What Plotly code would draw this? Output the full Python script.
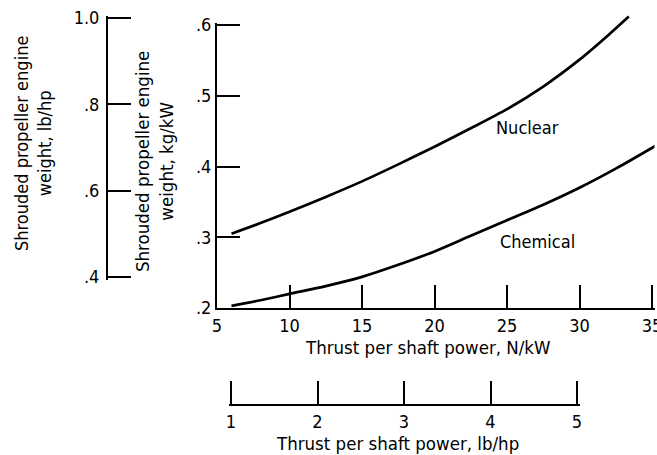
import plotly.graph_objects as go

# ---------------- data ----------------
thrust_nkw_nuclear = [6.0, 8.0, 10.0, 12.5, 15.0, 17.5, 20.0, 22.5, 25.0, 27.5, 30.0, 32.0, 33.4]
weight_nuclear = [0.305, 0.320, 0.336, 0.357, 0.379, 0.403, 0.428, 0.454, 0.481, 0.513, 0.551, 0.586, 0.612]

thrust_nkw_chemical = [6.0, 8.0, 10.0, 12.5, 15.0, 17.5, 20.0, 22.5, 25.0, 27.5, 30.0, 32.5, 35.3]
weight_chemical = [0.203, 0.211, 0.220, 0.231, 0.244, 0.261, 0.280, 0.302, 0.324, 0.346, 0.370, 0.397, 0.430]

x_nkw_ticks = [5, 10, 15, 20, 25, 30, 35]
x_nkw_labels = ["5", "10", "15", "20", "25", "30", "35"]
y_kgkw_ticks = [0.2, 0.3, 0.4, 0.5, 0.6]
y_kgkw_labels = [".2", ".3", ".4", ".5", ".6"]
x_lbhp_ticks = [1, 2, 3, 4, 5]
x_lbhp_labels = ["1", "2", "3", "4", "5"]
y_lbhp_ticks = [0.4, 0.6, 0.8, 1.0]
y_lbhp_labels = [".4", ".6", ".8", "1.0"]

curve_labels = ["Nuclear", "Chemical"]
curve_label_x = [26.4, 27.1]
curve_label_y = [0.455, 0.294]

# ---------------- layout geometry (pixels) ----------------
W, H = 657, 455
FONT = "DejaVu Sans Condensed, DejaVu Sans, sans-serif"
FS = 18
PAD = 2.5   # px of axis beyond the end ticks so plotly keeps those ticks


def fx(px):
    return px / W


def fy(py):
    return 1 - py / H


def x_axis_geom(v0, v1, p0, p1, pad_lo, pad_hi):
    s = (p1 - p0) / (v1 - v0)
    return [fx(p0 - pad_lo), fx(p1 + pad_hi)], [v0 - pad_lo / s, v1 + pad_hi / s]


def y_axis_geom(v0, v1, p0, p1, pad_lo, pad_hi):
    # p0: pixel (from top) of v0 (bottom), p1: pixel of v1 (top)
    s = (p0 - p1) / (v1 - v0)
    return [fy(p0 + pad_lo), fy(p1 - pad_hi)], [v0 - pad_lo / s, v1 + pad_hi / s]


X_LEFT, X_RIGHT = 217, 652      # pixel of x = 5 and x = 35
Y_BOT, Y_TOP = 308, 25          # pixel of y = 0.2 and y = 0.6

x_dom, x_rng = x_axis_geom(5, 35, X_LEFT, X_RIGHT, 0, PAD)
y_dom, y_rng = y_axis_geom(0.2, 0.6, Y_BOT, Y_TOP, 0, PAD)
y3_dom, y3_rng = y_axis_geom(0.2, 0.6, Y_BOT, Y_TOP, 0, 21)      # room for curve above .6
y2_dom, y2_rng = y_axis_geom(0.4, 1.0, 277, 18, PAD, PAD)
x2_dom, x2_rng = x_axis_geom(1, 5, 231, 577, PAD, PAD)

fig = go.Figure()

line_style = dict(color="black", width=2.7, shape="spline", smoothing=0.8)
fig.add_trace(go.Scatter(x=thrust_nkw_nuclear, y=weight_nuclear, mode="lines",
                         line=line_style, xaxis="x", yaxis="y3", name="Nuclear",
                         hoverinfo="skip"))
fig.add_trace(go.Scatter(x=thrust_nkw_chemical, y=weight_chemical, mode="lines",
                         line=line_style, xaxis="x", yaxis="y3", name="Chemical",
                         hoverinfo="skip"))
# invisible anchor traces so every axis gets drawn
fig.add_trace(go.Scatter(x=[5], y=[0.2], mode="markers", marker=dict(opacity=0),
                         xaxis="x", yaxis="y", hoverinfo="skip"))
fig.add_trace(go.Scatter(x=[5], y=[0.4], mode="markers", marker=dict(opacity=0),
                         xaxis="x", yaxis="y2", hoverinfo="skip"))
fig.add_trace(go.Scatter(x=[1], y=[0.2], mode="markers", marker=dict(opacity=0),
                         xaxis="x2", yaxis="y", hoverinfo="skip"))

axis_common = dict(showline=True, linecolor="black", linewidth=2, ticks="inside",
                   ticklen=23, tickwidth=2, tickcolor="black", showgrid=False,
                   zeroline=False, fixedrange=True, automargin=False,
                   ticklabeloverflow="allow",
                   tickfont=dict(family=FONT, size=FS, color="black"))

fig.update_layout(
    template="none",
    width=W, height=H,
    margin=dict(l=0, r=0, t=0, b=0, pad=0, autoexpand=False),
    paper_bgcolor="white", plot_bgcolor="rgba(0,0,0,0)",
    showlegend=False,
    font=dict(family=FONT, size=FS, color="black"),
    xaxis=dict(domain=x_dom, range=x_rng, anchor="y",
               tickmode="array", tickvals=x_nkw_ticks, ticktext=x_nkw_labels,
               **axis_common),
    yaxis=dict(domain=y_dom, range=y_rng, anchor="x",
               tickmode="array", tickvals=y_kgkw_ticks, ticktext=y_kgkw_labels,
               **axis_common),
    yaxis3=dict(domain=y3_dom, range=y3_rng, anchor="x", visible=False,
                fixedrange=True, automargin=False),
    yaxis2=dict(domain=y2_dom, range=y2_rng, anchor="free", position=fx(107),
                tickmode="array", tickvals=y_lbhp_ticks, ticktext=y_lbhp_labels,
                ticklabelstandoff=3, **axis_common),
    xaxis2=dict(domain=x2_dom, range=x2_rng, anchor="free", position=fy(405),
                tickmode="array", tickvals=x_lbhp_ticks, ticktext=x_lbhp_labels,
                **axis_common),
)

ann = []
for t, xv, yv in zip(curve_labels, curve_label_x, curve_label_y):
    ann.append(dict(text=t, x=xv, y=yv, xref="x", yref="y", showarrow=False,
                    xanchor="center", yanchor="middle",
                    font=dict(family=FONT, size=FS)))
title_font = dict(family=FONT, size=18.5)
ann += [
    dict(text="Thrust per shaft power, N/kW", x=fx(427), y=fy(347), xref="paper",
         yref="paper", showarrow=False, xanchor="center", yanchor="middle",
         font=title_font),
    dict(text="Thrust per shaft power, lb/hp", x=fx(397), y=fy(443), xref="paper",
         yref="paper", showarrow=False, xanchor="center", yanchor="middle",
         font=title_font),
    dict(text="Shrouded propeller engine<br>weight, lb/hp", x=fx(33), y=fy(144),
         xref="paper", yref="paper", showarrow=False, textangle=-90,
         xanchor="center", yanchor="middle", font=dict(family=FONT, size=FS)),
    dict(text="Shrouded propeller engine<br>weight, kg/kW", x=fx(154), y=fy(162),
         xref="paper", yref="paper", showarrow=False, textangle=-90,
         xanchor="center", yanchor="middle", font=dict(family=FONT, size=18.5)),
]
fig.update_layout(annotations=ann)

fig.write_html("out.html", config={"displayModeBar": False, "staticPlot": True})
